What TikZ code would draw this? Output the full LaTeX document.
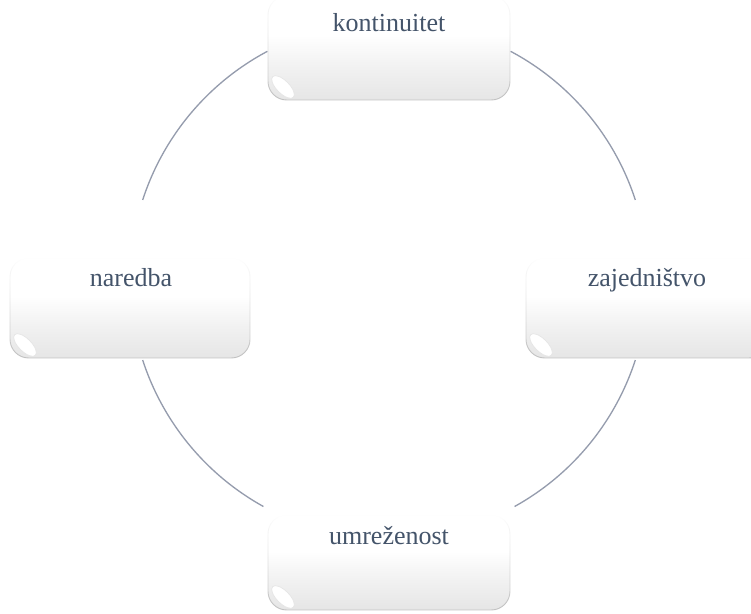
\documentclass[tikz,border=0pt]{standalone}
\usepackage{fontspec}
\setmainfont{Liberation Serif}
\usetikzlibrary{fadings}
\definecolor{txtblue}{HTML}{44546A}
\definecolor{ringgray}{HTML}{959CAD}
\pgfdeclareverticalshading{boxshade}{100bp}{color(0bp)=(black!10); color(25bp)=(black!10); color(42bp)=(black!5); color(56bp)=(white); color(100bp)=(white)}
\tikzfading[name=upfade, top color=transparent!100, middle color=transparent!55, bottom color=transparent!0]
\tikzset{
  box/.style={rounded corners=14pt, shading=boxshade},
  boxedge/.style={rounded corners=14pt, draw=black!24, line width=0.7pt, path fading=upfade},
  lbl/.style={text=txtblue, font=\fontsize{19.5}{22}\selectfont, anchor=base, inner sep=0pt},
  ring/.style={ringgray, line width=1pt},
  gloss/.style={fill=white, draw=black!10, line width=0.5pt}
}
\begin{document}
\begin{tikzpicture}[x=0.75pt, y=0.75pt]
\useasboundingbox (0,0) rectangle (751,614);
\coordinate (c) at (389,334);
% ring
\draw[ring] ([shift={(118:194.25pt)}]c) arc[start angle=118, end angle=162, radius=194.25pt];
\draw[ring] ([shift={(198:194.25pt)}]c) arc[start angle=198, end angle=241, radius=194.25pt];
\draw[ring] ([shift={(299:194.25pt)}]c) arc[start angle=299, end angle=342, radius=194.25pt];
\draw[ring] ([shift={(18:194.25pt)}]c) arc[start angle=18, end angle=62, radius=194.25pt];
% boxes
\shade[box] (268,514) rectangle (510,618); \draw[boxedge] (268,514) rectangle (510,618);
\shade[box] (10,256) rectangle (250,356);  \draw[boxedge] (10,256) rectangle (250,356);
\shade[box] (526,256) rectangle (768,356); \draw[boxedge] (526,256) rectangle (768,356);
\shade[box] (268,4) rectangle (510,99);    \draw[boxedge] (268,4) rectangle (510,99);
% gloss
\draw[gloss, rotate around={-45:(283,527)}] (283,527) ellipse (11pt and 4.8pt);
\draw[gloss, rotate around={-45:(25,269)}] (25,269) ellipse (11pt and 4.8pt);
\draw[gloss, rotate around={-45:(541,269)}] (541,269) ellipse (11pt and 4.8pt);
\draw[gloss, rotate around={-45:(283,17)}] (283,17) ellipse (11pt and 4.8pt);
% labels
\node[lbl] (kont) at (389,582) {kontinuitet};
\node[lbl] (nared) at (131,327) {naredba};
\node[lbl] (zajed) at (647,327) {zajedništvo};
\node[lbl] (umrez) at (389,69) {umreženost};
\end{tikzpicture}
\end{document}
